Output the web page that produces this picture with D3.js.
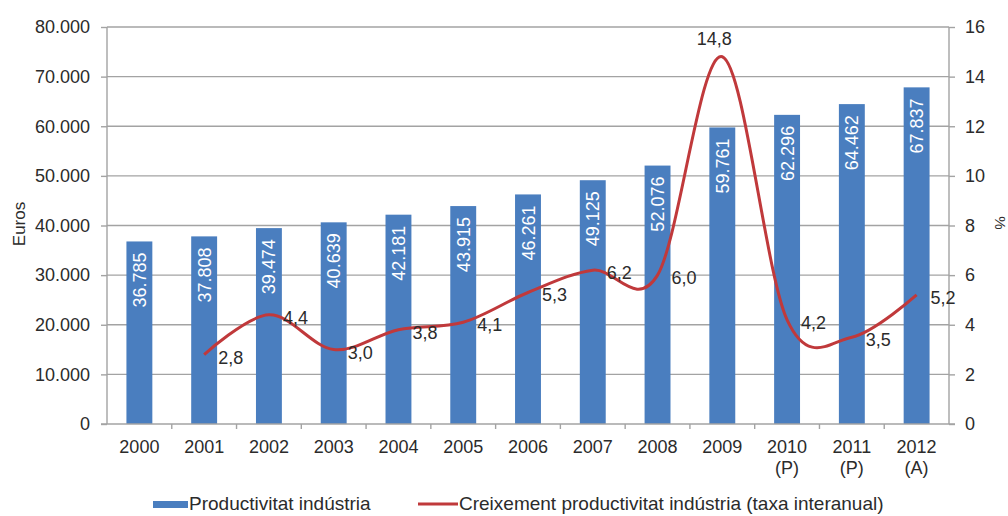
<!DOCTYPE html>
<html><head><meta charset="utf-8">
<script src="https://cdn.jsdelivr.net/npm/d3@7"></script>
<style>
body{margin:0;background:#fff;}
text{font-family:"Liberation Sans",Arial,sans-serif;}
</style></head><body>
<svg id="c" width="1008" height="516"></svg>
<script>
const categories = ["2000","2001","2002","2003","2004","2005","2006","2007","2008","2009","2010\n(P)","2011\n(P)","2012\n(A)"];
const productivity = [36785,37808,39474,40639,42181,43915,46261,49125,52076,59761,62296,64462,67837];
const growth = [null,2.8,4.4,3.0,3.8,4.1,5.3,6.2,6.0,14.8,4.2,3.5,5.2];
const leftTicks = [0,10000,20000,30000,40000,50000,60000,70000,80000];
const rightTicks = [0,2,4,6,8,10,12,14,16];
const seriesNames = ["Productivitat indústria","Creixement productivitat indústria (taxa interanual)"];

const svg = d3.select("#c");
const L = 107, R = 949, T = 27, B = 424;
const FS = 18;
const x = d3.scaleBand().domain(categories).range([L,R]).paddingInner(0.6).paddingOuter(0.3);
const yL = d3.scaleLinear().domain([0,80000]).range([B,T]);
const yR = d3.scaleLinear().domain([0,16]).range([B,T]);
const fmt = v => d3.format(",")(v).replace(/,/g,".");
const fmtP = v => v.toFixed(1).replace(".",",");
const txt = "#2b2b2b";
const grid = "#a3a3a3";

// gridlines
svg.append("g").selectAll("line").data(leftTicks.slice(1)).join("line")
  .attr("x1",L).attr("x2",R).attr("y1",d=>yL(d)).attr("y2",d=>yL(d))
  .attr("stroke",grid).attr("stroke-width",1.4);

// bars
svg.append("g").selectAll("rect").data(productivity).join("rect")
  .attr("x",(d,i)=>x(categories[i])).attr("width",x.bandwidth())
  .attr("y",d=>yL(d)).attr("height",d=>B-yL(d)).attr("fill","#4a7ebf");

// bar labels
svg.append("g").selectAll("text").data(productivity).join("text")
  .attr("transform",(d,i)=>`translate(${x(categories[i])+x.bandwidth()/2+6.5},${yL(d)+11}) rotate(-90)`)
  .attr("text-anchor","end").attr("fill","#fff").attr("font-size",FS).text(d=>fmt(d));

// left axis
const gl = svg.append("g").attr("transform",`translate(${L},0)`)
  .call(d3.axisLeft(yL).tickValues(leftTicks).tickFormat(fmt).tickSize(6).tickPadding(11));
gl.select(".domain").attr("stroke",grid).attr("stroke-width",1.4).attr("d",`M0,${B}V${T}`);
gl.selectAll(".tick line").attr("stroke",grid).attr("stroke-width",1.4);
gl.selectAll(".tick text").attr("font-size",FS).attr("fill",txt).attr("font-family","Liberation Sans, Arial");

// right axis
const gr = svg.append("g").attr("transform",`translate(${R},0)`)
  .call(d3.axisRight(yR).tickValues(rightTicks).tickSize(6).tickPadding(10));
gr.selectAll(".tick line").attr("stroke",grid).attr("stroke-width",1.4);
gr.select(".domain").attr("stroke",grid).attr("stroke-width",1.4).attr("d",`M0,${B}V${T}`);
gr.selectAll(".tick text").attr("font-size",FS).attr("fill",txt).attr("font-family","Liberation Sans, Arial");

// x axis
svg.append("line").attr("x1",L-6).attr("x2",R+6).attr("y1",B).attr("y2",B).attr("stroke",grid).attr("stroke-width",1.4);
const step = x.step();
svg.append("g").selectAll("line").data(categories.slice(1)).join("line")
  .attr("x1",d=>x(d)-(step-x.bandwidth())/2).attr("x2",d=>x(d)-(step-x.bandwidth())/2)
  .attr("y1",B).attr("y2",B+5).attr("stroke",grid).attr("stroke-width",1.4);
const xl = svg.append("g").selectAll("text").data(categories).join("text")
  .attr("x",d=>x(d)+x.bandwidth()/2).attr("y",B+29).attr("text-anchor","middle")
  .attr("font-size",FS).attr("fill",txt);
xl.each(function(d){
  const parts = d.split("\n");
  const t = d3.select(this);
  parts.forEach((p,k)=>t.append("tspan").attr("x",x(d)+x.bandwidth()/2).attr("dy",k?21:0).text(p));
});

// axis titles
svg.append("text").attr("transform","translate(25,224) rotate(-90)").attr("text-anchor","middle")
  .attr("font-size",17).attr("fill",txt).text("Euros");
svg.append("text").attr("transform","translate(995,223) rotate(90)").attr("text-anchor","middle")
  .attr("font-size",15).attr("fill",txt).text("%");

// line
const pts = growth.map((v,i)=>v==null?null:[x(categories[i])+x.bandwidth()/2, yR(v), v]).filter(Boolean);
svg.append("path").datum(pts)
  .attr("d",d3.line().x(d=>d[0]).y(d=>d[1]).curve(d3.curveCatmullRom.alpha(0)))
  .attr("fill","none").attr("stroke","#c0393b").attr("stroke-width",3);

// line labels
svg.append("g").selectAll("text").data(pts).join("text")
  .attr("x",d=>d[2]>14?d[0]-8:d[0]+14)
  .attr("y",d=>d[2]>14?d[1]-12:d[1]+9)
  .attr("text-anchor",d=>d[2]>14?"middle":"start")
  .attr("font-size",FS).attr("fill",txt).text(d=>fmtP(d[2]));

// legend
const lg = svg.append("g");
lg.append("rect").attr("x",153).attr("y",501).attr("width",35).attr("height",7).attr("fill","#4a7ebf");
lg.append("text").attr("x",189).attr("y",510).attr("font-size",19).attr("fill",txt).text(seriesNames[0]);
lg.append("line").attr("x1",418).attr("x2",458).attr("y1",504).attr("y2",504).attr("stroke","#c0393b").attr("stroke-width",3);
lg.append("text").attr("x",459).attr("y",510).attr("font-size",19).attr("fill",txt).text(seriesNames[1]);
</script></body></html>
